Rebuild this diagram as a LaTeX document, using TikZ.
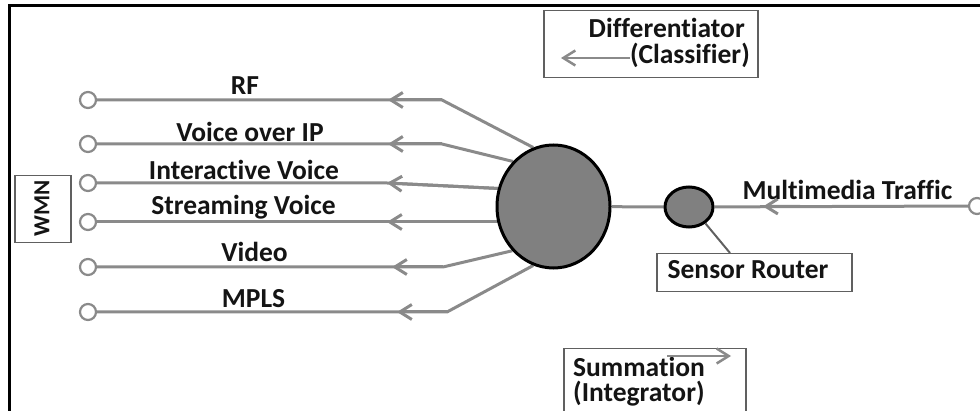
\documentclass[tikz,border=0pt]{standalone}
\usepackage{fontspec}
\setmainfont{Carlito}[Ligatures={NoCommon,NoContextual}]
\usetikzlibrary{arrows.meta,shapes.geometric,calc,backgrounds}
\definecolor{wire}{RGB}{138,138,138}
\definecolor{hubfill}{RGB}{128,128,128}
\definecolor{boxline}{RGB}{96,96,96}
\definecolor{ink}{RGB}{20,20,20}
\begin{document}
\begin{tikzpicture}[x=1pt,y=-1pt,
  wire/.style={draw=wire,line width=3pt},
  flowtip/.style={wire,-{Straight Barb[length=12pt,width=15pt]}},
  port/.style={circle,draw=wire,line width=2.2pt,fill=white,minimum size=16pt,inner sep=0pt},
  lbl/.style={font=\fontsize{27.5}{33}\selectfont\bfseries,text=ink,inner sep=0pt},
  tagbox/.style={draw=boxline,line width=1.5pt,fill=white,inner sep=0pt},
  hubnode/.style={ellipse,draw=black,line width=3pt,fill=hubfill,inner sep=0pt}]
\clip (0,0) rectangle (980,411);
% outer frame (left and top edges)
\draw[line width=3.5pt] (9.5,411) -- (9.5,5.5) -- (980,5.5);

% classifier hub and sensor router
\node[hubnode,minimum width=113pt,minimum height=123pt] (hub) at (553.5,206.5) {};
\node[hubnode,minimum width=48pt,minimum height=40pt] (router) at (689,207) {};

% traffic end points
\node[port] (p1) at (88,100) {};
\node[port] (p2) at (88,144) {};
\node[port] (p3) at (88,183) {};
\node[port] (p4) at (88,222) {};
\node[port] (p5) at (88,267) {};
\node[port] (p6) at (88,312) {};
\node[port] (src) at (977,206) {};

% bends and arrow tips on the outgoing lines
\coordinate (b1) at (442,100);
\coordinate (b2) at (442,144);
\coordinate (b4) at (430,222);
\coordinate (b5) at (443,267);
\coordinate (b6) at (447,312);
\coordinate (a1) at (388,100);
\coordinate (a2) at (388,144);
\coordinate (a3) at (387,183);
\coordinate (a4) at (387,222);
\coordinate (a5) at (392,267);
\coordinate (a6) at (397,312);
\coordinate (r1) at (800,206.3);
\coordinate (r2) at (763,206.5);

\begin{scope}[on background layer]
  \draw[wire] (p1) -- (b1) -- (hub.109);
  \draw[wire] (p2) -- (b2) -- (hub.132);
  \draw[wire] (p3) -- (a3) -- (hub.162);
  \draw[wire] (p4) -- (p4 -| hub.center);
  \draw[wire] (p5) -- (b5) -- (hub.227);
  \draw[wire] (p6) -- (b6) -- (hub.251);
  \draw[flowtip] (b1) -- (a1);
  \draw[flowtip] (b2) -- (a2);
  \draw[flowtip] (hub.162) -- (a3);
  \draw[flowtip] (b4) -- (a4);
  \draw[flowtip] (b5) -- (a5);
  \draw[flowtip] (b6) -- (a6);
  \draw[wire] (hub) -- (router);
  \draw[wire] (router) -- (src);
  \draw[flowtip] (r1) -- (r2);
\end{scope}

% line labels
\node[lbl,anchor=base] (tRF) at (245,95) {RF};
\node[lbl,anchor=base] (tVoIP) at (250,141.5) {Voice over IP};
\node[lbl,anchor=base] (tIV) at (244,179.5) {Interactive Voice};
\node[lbl,anchor=base] (tSV) at (243.5,214.5) {Streaming Voice};
\node[lbl,anchor=base] (tVid) at (254.5,262) {Video};
\node[lbl,anchor=base] (tMPLS) at (253.5,308) {MPLS};
\node[lbl,anchor=base] (tMM) at (847.5,200) {Multimedia Traffic};

% WMN tag
\node[tagbox,anchor=north west,minimum width=56pt,minimum height=67pt] (wmnbox) at (14,175) {};
\node[lbl,font=\fontsize{23}{27}\selectfont\bfseries,rotate=90] (wmn) at (42,208) {WMN};

% sensor router tag
\node[tagbox,anchor=north west,minimum width=195pt,minimum height=38pt] (srbox) at (656,253) {};
\node[lbl,anchor=base] (srtext) at (748,279) {Sensor Router};
\coordinate (srtop) at (730,253);
\draw[draw=boxline,line width=2pt] (router.-45) -- (srtop);

% differentiator tag
\node[tagbox,anchor=north west,minimum width=214pt,minimum height=67pt] (diffbox) at (543,10) {};
\node[lbl,anchor=base east] (difft) at (745,38) {Differentiator};
\node[lbl,anchor=base east] (classt) at (750,64) {(Classifier)};
\coordinate (dB) at (561,58);
\coordinate (dA) at (classt.west |- dB);
\draw[flowtip,line width=2.5pt] (dA) -- (dB);

% summation tag
\node[tagbox,anchor=north west,minimum width=182pt,minimum height=90pt] (sumbox) at (563,348) {};
\node[lbl,anchor=base west] (sumt) at (573,377) {Summation};
\node[lbl,anchor=base west] (integt) at (573,402) {(Integrator)};
\coordinate (sA) at (667,356);
\coordinate (sB) at (731,356);
\draw[flowtip,line width=2.5pt] (sA) -- (sB);
\end{tikzpicture}
\end{document}
